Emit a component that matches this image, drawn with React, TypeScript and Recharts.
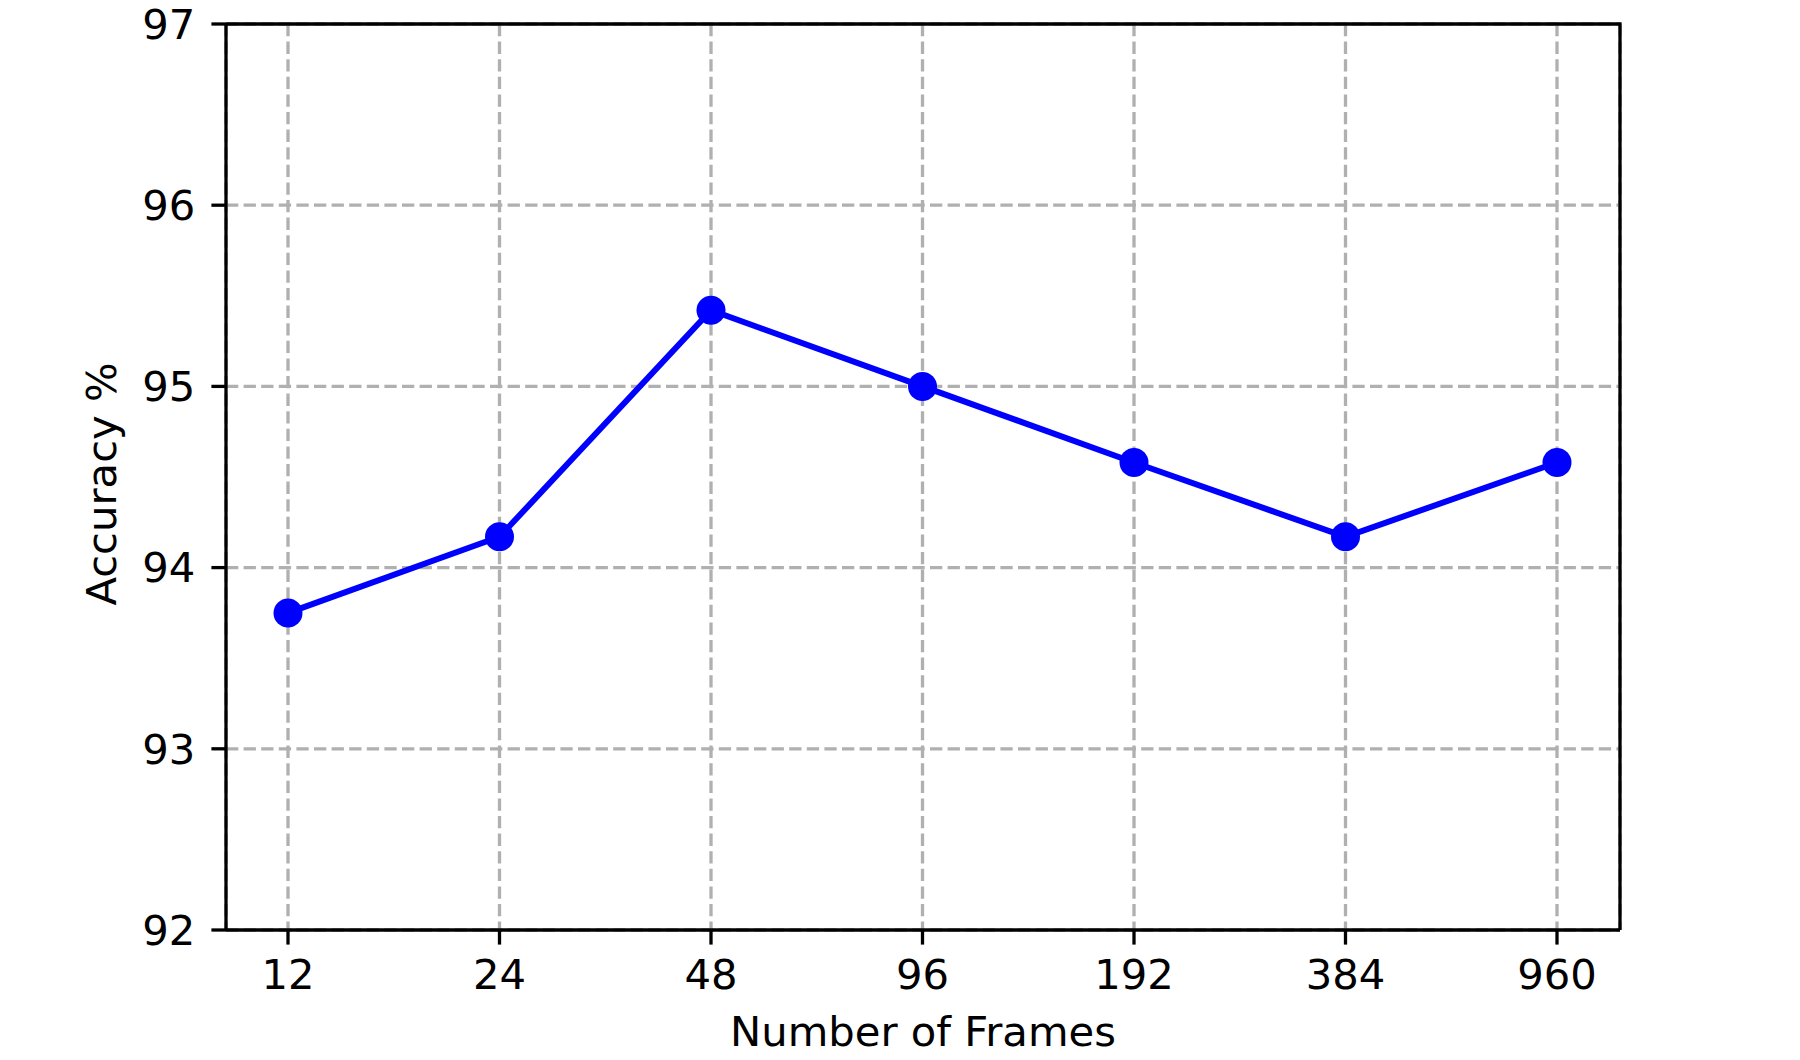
import React from "react";
import {
  LineChart,
  Line,
  XAxis,
  YAxis,
  CartesianGrid,
  Label,
} from "recharts";

// frames per clip and the accuracy
const frames = ["12", "24", "48", "96", "192", "384", "960"];
const accuracy = [93.75, 94.17, 95.42, 95.0, 94.58, 94.17, 94.58];
const yTicks = [92, 93, 94, 95, 96, 97];

const chartData = frames.map((f, i) => ({ frames: f, accuracy: accuracy[i] }));

const font = "DejaVu Sans";
const fontSize = 41.7;
const axisStroke = { stroke: "#000", strokeWidth: 3.3 };

// plot box, same numbers as the chart margins / axis sizes below
const box = { left: 226, top: 24, right: 1620, bottom: 930 };

const App = () => {
  return (
    <div style={{ position: "absolute", left: 0, top: 0, background: "#fff" }}>
      <LineChart
        width={1800}
        height={1060}
        data={chartData}
        margin={{ top: 24, right: 180, bottom: 14, left: 0 }}
      >
        <CartesianGrid
          stroke="#b0b0b0"
          strokeWidth={3.3}
          strokeDasharray="12.3 5.3"
        />
        <XAxis
          dataKey="frames"
          height={116}
          padding={{ left: 62, right: 63 }}
          axisLine={axisStroke}
          tickLine={axisStroke}
          tickSize={14.6}
          tickMargin={15}
          tick={{ fill: "#000", fontSize, fontFamily: font }}
          interval={0}
        >
          <Label
            value="Number of Frames"
            position="insideBottom"
            offset={0}
            style={{ fill: "#000", fontSize, fontFamily: font }}
          />
        </XAxis>
        <YAxis
          type="number"
          domain={[92, 97]}
          ticks={yTicks}
          width={226}
          axisLine={axisStroke}
          tickLine={axisStroke}
          tickSize={14.6}
          tickMargin={16}
          tick={{ fill: "#000", fontSize, fontFamily: font }}
        >
          <Label
            value="Accuracy %"
            angle={-90}
            position="center"
            dx={-12}
            dy={7}
            style={{ fill: "#000", fontSize, fontFamily: font, textAnchor: "middle" }}
          />
        </YAxis>
        <Line
          type="linear"
          dataKey="accuracy"
          stroke="#0000ff"
          strokeWidth={6}
          dot={{ r: 14.5, fill: "#0000ff", stroke: "none", strokeWidth: 0 }}
          activeDot={false}
          isAnimationActive={false}
        />
        {/* top + right spines */}
        <path
          d={`M${box.left},${box.top} H${box.right} V${box.bottom}`}
          fill="none"
          stroke="#000"
          strokeWidth={3.3}
        />
      </LineChart>
    </div>
  );
};

export default App;
